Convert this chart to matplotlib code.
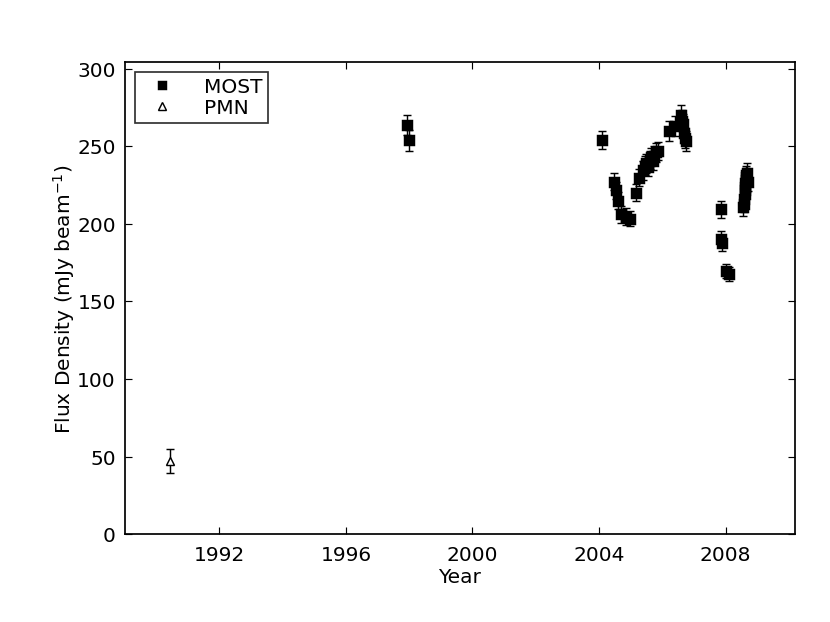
import numpy as np
import matplotlib
matplotlib.use("Agg")
import matplotlib.pyplot as plt
from matplotlib.lines import Line2D

# MOST monitoring (year, flux density mJy/beam, error)
most_year = [1997.92, 1997.98,
             2004.08,
             2004.47, 2004.53, 2004.61, 2004.68, 2004.84, 2004.99,
             2005.18, 2005.26, 2005.38, 2005.44, 2005.50, 2005.55, 2005.60,
             2005.65, 2005.70, 2005.75, 2005.80, 2005.88,
             2006.20, 2006.41, 2006.59, 2006.63, 2006.67, 2006.70, 2006.72, 2006.75,
             2007.86, 2007.87, 2007.89, 2008.03, 2008.12,
             2008.55, 2008.57, 2008.58, 2008.60, 2008.61, 2008.62, 2008.63,
             2008.64, 2008.65, 2008.66, 2008.68, 2008.70]
most_flux = [263.5, 253.7,
             254.0,
             227.0, 221.7, 215.0, 206.0, 204.6, 203.3,
             220.0, 229.7, 234.5, 237.5, 239.0, 236.5, 241.0,
             243.0, 240.5, 244.0, 246.0, 247.0,
             260.0, 263.0, 269.8, 266.5, 264.0, 258.7, 255.5, 253.3,
             209.3, 190.5, 187.5, 169.5, 167.5,
             210.5, 213.0, 216.0, 219.0, 221.5, 224.0, 226.0,
             228.0, 230.0, 231.5, 233.0, 227.0]
most_err = [6.5, 6.5,
            6.0,
            5.5, 5.5, 5.5, 5.5, 5.5, 5.0,
            5.5, 5.5, 6.0, 6.0, 6.0, 6.0, 6.0,
            6.0, 6.0, 6.0, 6.0, 6.0,
            6.5, 6.5, 7.0, 6.5, 6.5, 6.5, 6.5, 6.5,
            5.5, 5.0, 5.0, 4.5, 4.5,
            5.5, 5.5, 5.5, 5.5, 5.5, 6.0, 6.0,
            6.0, 6.0, 6.0, 6.0, 6.0]

# PMN survey point
pmn_year = [1990.45]
pmn_flux = [47.2]
pmn_err = [8.0]

plt.rcParams['font.family'] = ['DejaVu Sans']
plt.rcParams['font.size'] = 14

fig = plt.figure(figsize=(8, 6), dpi=103.75)
ax = fig.add_axes([0.150, 0.141, 0.808, 0.758])

ax.errorbar(most_year, most_flux, yerr=most_err, fmt='s', color='k',
            mfc='k', mec='k', ms=7.5, capsize=3, elinewidth=1)
ax.errorbar(pmn_year, pmn_flux, yerr=pmn_err, fmt='^', color='k',
            mfc='w', mec='k', ms=6, capsize=3, elinewidth=1)

ax.set_xlim(1989, 2010.2)
ax.set_ylim(0, 304)
ax.set_xticks([1992, 1996, 2000, 2004, 2008])
ax.set_yticks([0, 50, 100, 150, 200, 250, 300])
ax.tick_params(direction='in', top=True, right=True, length=5, labelsize=14)
ax.tick_params(axis='x', pad=8)
ax.tick_params(axis='y', pad=6)
for s in ax.spines.values():
    s.set_linewidth(1.2)

ax.set_xlabel("Year", fontsize=14, labelpad=2)
ax.set_ylabel("Flux Density (mJy beam$^{-1}$)", fontsize=14, labelpad=0)

# legend shows markers only, no error bars
handles = [Line2D([], [], ls='none', marker='s', color='k', mfc='k', ms=6),
           Line2D([], [], ls='none', marker='^', color='k', mfc='w', ms=5)]
leg = ax.legend(handles, ['MOST', 'PMN'], loc='upper left', numpoints=1,
                fancybox=False, fontsize=14, handlelength=2.2, borderpad=0.25,
                labelspacing=0.1, borderaxespad=0.5, handletextpad=1.0)
leg.get_frame().set_edgecolor('k')
leg.get_frame().set_linewidth(1.2)

fig.savefig("out.png", dpi=103.75, facecolor='w')
